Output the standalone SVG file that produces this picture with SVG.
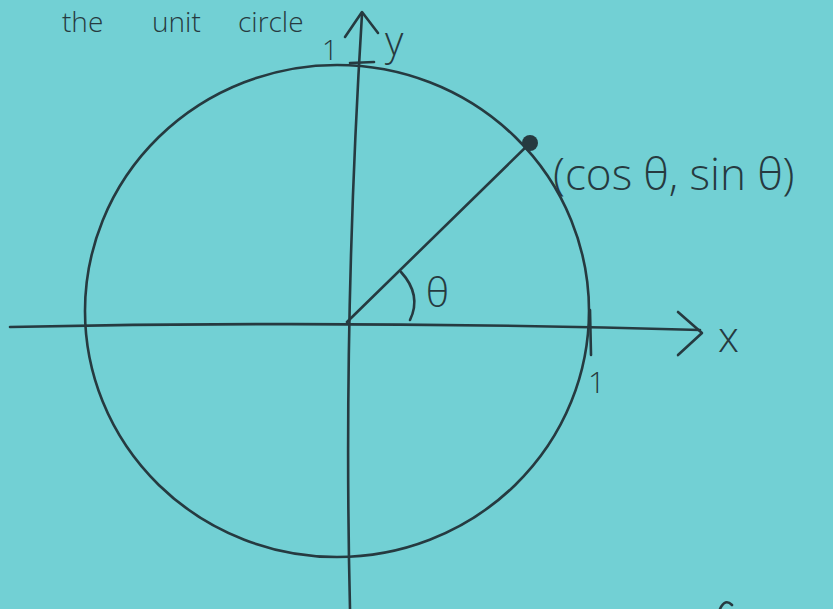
<svg xmlns="http://www.w3.org/2000/svg" width="833" height="609" viewBox="0 0 833 609">
<style>
.ln{fill:none;stroke:#263a40;stroke-width:2.6;stroke-linecap:round;stroke-linejoin:round}
.tx{font-family:"Open Sans","Liberation Sans",sans-serif;fill:#263a40;font-weight:300}
</style>
<rect width="833" height="609" fill="#72d0d4"/>
<g id="title">
<text class="tx" x="62" y="32" font-size="28">the</text>
<text class="tx" x="152" y="32" font-size="28">unit</text>
<text class="tx" x="238" y="32" font-size="28">circle</text>
</g>
<g id="circle"><ellipse class="ln" cx="337" cy="311" rx="252" ry="246"/></g>
<g id="connectors">
<path class="ln" d="M10 327 Q350 320 700 330"/>
<path class="ln" d="M678 312 L702 333 L678 355"/>
<path class="ln" d="M350 609 Q343 320 362 14"/>
<path class="ln" d="M345 37 L362 12 L378 33"/>
<path class="ln" d="M347 322 L530 143"/>
<path class="ln" d="M401 272 Q422 295 410 320"/>
<path class="ln" d="M350 63 L374 62"/>
<path class="ln" d="M590 310 L591 355"/>
<path class="ln" d="M720 609 Q725 598 732 605"/>
</g>
<g id="point"><circle cx="530" cy="143" r="8" fill="#263a40"/></g>
<text class="tx" x="553" y="190" font-size="44">(cos θ, sin θ)</text>
<text class="tx" x="426" y="307" font-size="40">θ</text>
<text class="tx" x="718" y="352" font-size="42">x</text>
<text class="tx" x="385" y="55" font-size="40">y</text>
<text class="tx" x="322" y="60" font-size="28">1</text>
<text class="tx" x="588" y="393" font-size="30">1</text>
</svg>
